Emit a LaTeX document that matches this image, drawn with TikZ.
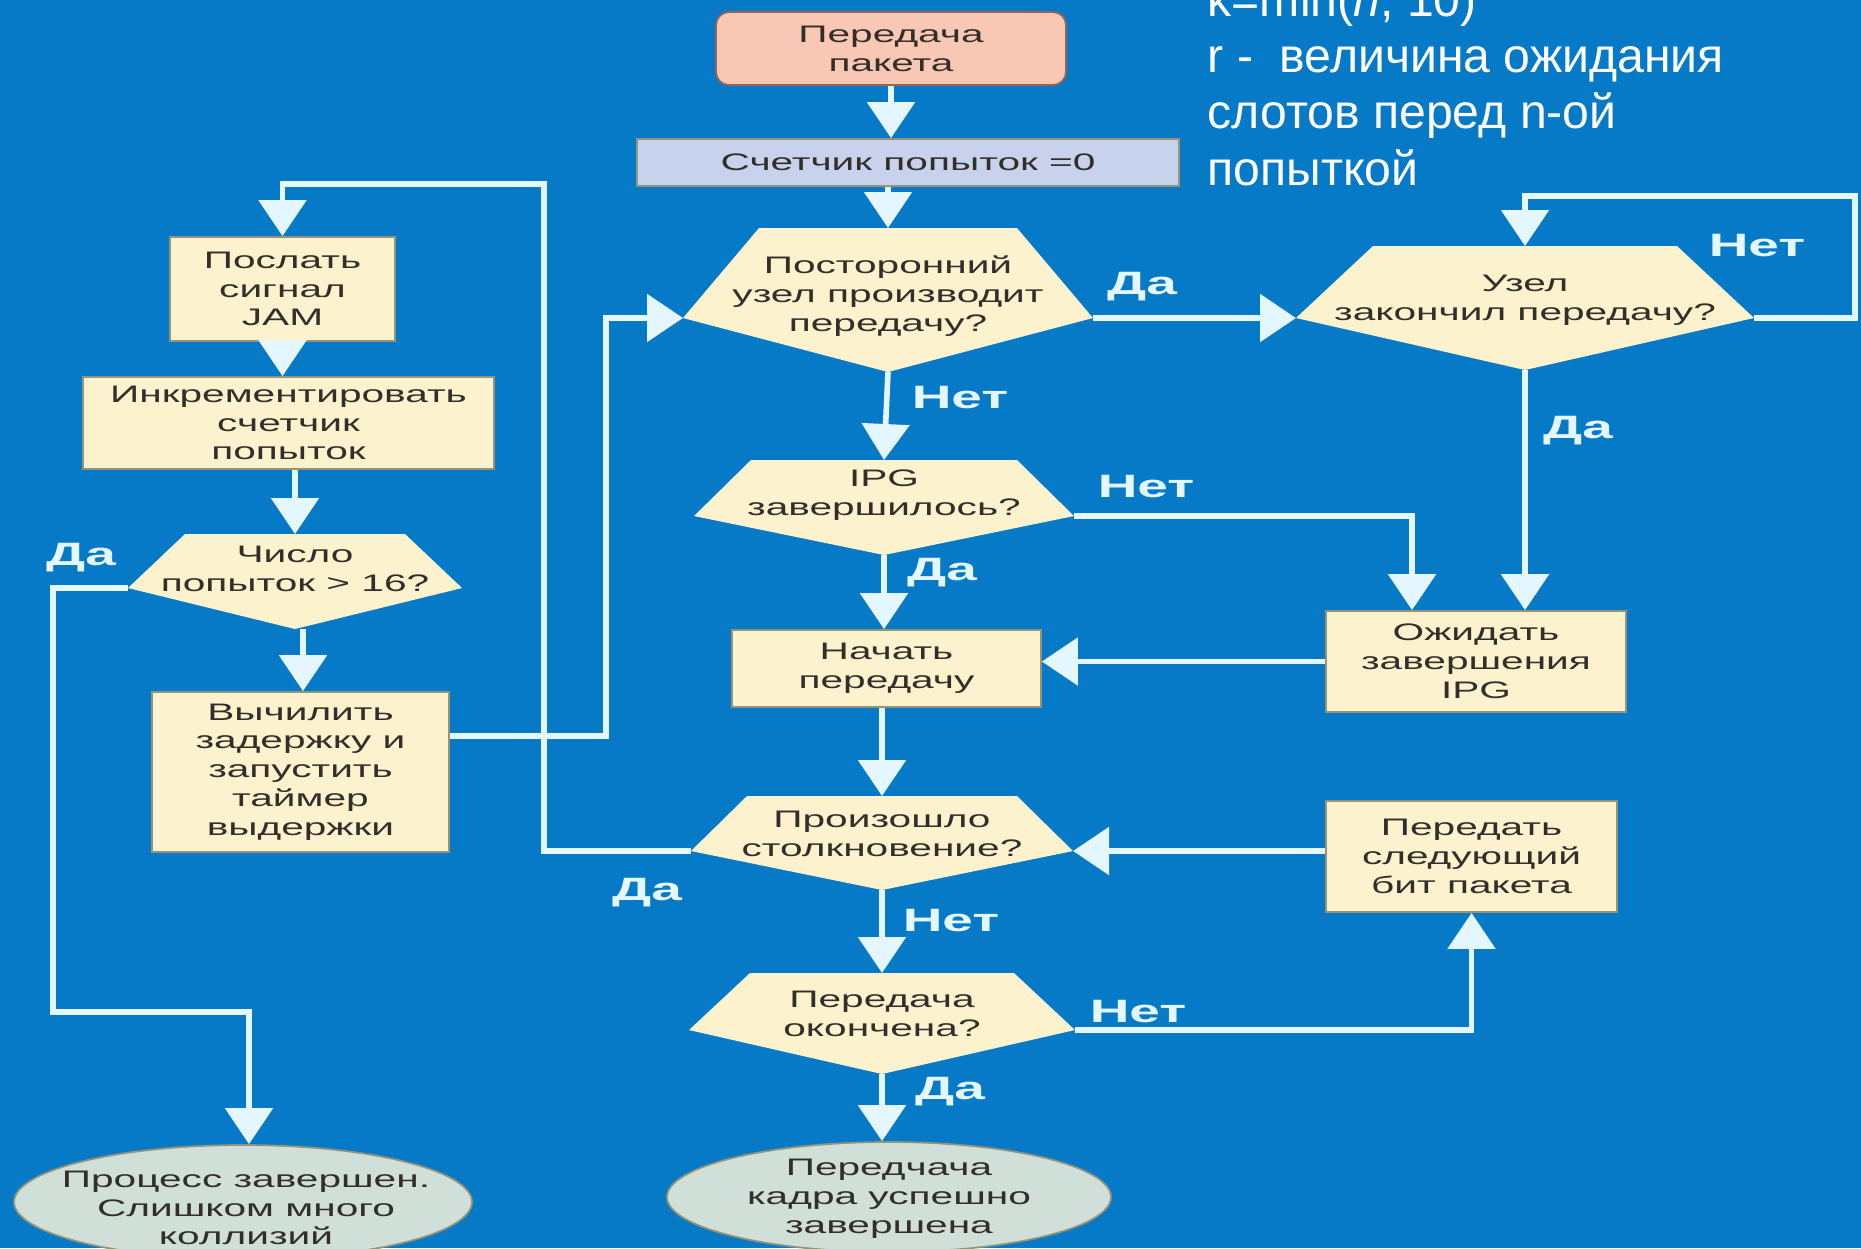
\documentclass[tikz,border=0pt]{standalone}
\usepackage{fontspec}
\setmainfont{Liberation Sans}
\newfontfamily\widefont[FakeStretch=1.7]{Liberation Sans}
\usetikzlibrary{arrows.meta,shapes.geometric}

\definecolor{bgblue}{RGB}{6,122,198}
\definecolor{linec}{RGB}{228,246,255}
\definecolor{cream}{RGB}{252,243,206}
\definecolor{creamedge}{RGB}{150,148,120}
\definecolor{salmon}{RGB}{248,200,180}
\definecolor{salmonedge}{RGB}{150,100,85}
\definecolor{lavender}{RGB}{200,210,236}
\definecolor{endfill}{RGB}{208,224,216}
\definecolor{txt}{RGB}{50,47,43}

% decision block: name, cx, top y, side y, bottom y, half top width, half side width
\newcommand{\decisionshape}[7]{%
  \coordinate (#1-t) at (#2,#3);
  \coordinate (#1-l) at ({#2-#7},#4);
  \coordinate (#1-r) at ({#2+#7},#4);
  \coordinate (#1-b) at (#2,#5);
  \fill[cream] ({#2-#6},#3) -- ({#2+#6},#3) -- (#1-r) -- (#1-b) -- (#1-l) -- cycle;
}

\tikzset{
  boxfont/.style={font=\widefont\fontsize{6.8}{8.2}\selectfont},
  box/.style={rectangle, fill=cream, draw=creamedge, line width=0.5pt,
    inner sep=0pt, align=center, text=txt, boxfont},
  dectext/.style={inner sep=0pt, align=center, text=txt, boxfont},
  endnode/.style={ellipse, fill=endfill, draw=creamedge, line width=0.5pt, inner sep=0pt},
  flow/.style={draw=linec, line width=1.6pt, -{Triangle[width=4.7mm,length=3.6mm]}},
  lbl/.style={text=linec, font=\widefont\bfseries\fontsize{9.2}{11}\selectfont, inner sep=0pt},
  note/.style={text=white, font=\fontsize{13.7}{16.2}\selectfont, anchor=base west, inner sep=0pt},
}

\begin{document}
\begin{tikzpicture}[x=0.1mm, y=-0.1mm]
\useasboundingbox (0,0) rectangle (1861,1248);
\fill[bgblue] (0,0) rectangle (1861,1248);
\begin{scope}
\clip (0,0) rectangle (1861,1248);

% explanatory notes
\node[note] (note1) at (1207,16) {k=min(\textit{n}, 10)};
\node[note] (note2) at (1207,72) {r -\ \ величина ожидания};
\node[note] (note3) at (1207,128.5) {слотов перед n-ой};
\node[note] (note4) at (1207,185) {попыткой};

% process blocks
\node[box, fill=salmon, draw=salmonedge, rounded corners=1.3mm,
      minimum width=35mm, minimum height=7.3mm] (start) at (891,48.5) {Передача\\пакета};
\node[box, fill=lavender, draw=creamedge, minimum width=54.2mm, minimum height=4.7mm]
      (counter) at (908,162.5) {Счетчик попыток =0};
\node[box, minimum width=22.5mm, minimum height=10.4mm] (jam) at (282.5,289) {Послать\\сигнал\\JAM};
\node[box, minimum width=41.1mm, minimum height=9.2mm] (inc) at (288.5,423) {Инкрементировать\\счетчик\\попыток};
\node[box, minimum width=29.7mm, minimum height=16mm] (calc) at (300.5,772)
      {Вычилить\\задержку и\\запустить\\таймер\\выдержки};
\node[box, minimum width=30.9mm, minimum height=7.7mm] (begin) at (886.5,668.5) {Начать\\передачу};
\node[box, minimum width=30mm, minimum height=10.1mm] (wait) at (1476,661.5) {Ожидать\\завершения\\IPG};
\node[box, minimum width=29.1mm, minimum height=11.1mm] (next) at (1471.5,856.5) {Передать\\следующий\\бит пакета};

% terminal blocks
\node[endnode, minimum width=44.4mm, minimum height=11mm] (done) at (889,1197) {};
\node[dectext] (donetext) at (889,1199) {Передчача\\кадра успешно\\завершена};
\node[endnode, minimum width=45.8mm, minimum height=11.4mm] (fail) at (243,1202) {};
\node[dectext] (failtext) at (246,1208) {Процесс завершен.\\Слишком много\\коллизий};

% decisions
\decisionshape{busy}{888}{228}{318}{372}{129}{205}
\node[dectext] (busytext) at (888,296) {Посторонний\\узел производит\\передачу?};
\decisionshape{idle}{1525}{246}{318}{370}{152}{229}
\node[dectext] (idletext) at (1525,300) {Узел\\закончил передачу?};
\decisionshape{ipg}{884}{460}{516}{555}{133}{190}
\node[dectext] (ipgtext) at (884,495) {IPG\\завершилось?};
\decisionshape{coll}{882}{796}{851}{890}{135}{191}
\node[dectext] (colltext) at (882,834) {Произошло\\столкновение?};
\decisionshape{fin}{882}{973}{1030}{1074}{132}{193}
\node[dectext] (fintext) at (882,1014) {Передача\\окончена?};
\decisionshape{cnt}{295}{534}{588}{629}{110}{167}
\node[dectext] (cnttext) at (295,569) {Число\\попыток > 16?};

% connectors
\coordinate (loopcorner) at (1855,196);
\coordinate (yescorner) at (544,184);
\coordinate (abortcorner) at (53,1012);

\draw[flow] (start.south) -- (start.south |- counter.north);
\draw[flow] (counter.south -| busy-t) -- (busy-t);
\draw[flow] (busy-r) -- (idle-l);
\draw[flow] (idle-r) -| (loopcorner) -| (idle-t);
\draw[flow] (idle-b) -- (idle-b |- wait.north);
\draw[flow] (busy-b) -- (ipg-t);
\draw[flow] (ipg-r) -| ([xshift=-6.4mm]wait.north);
\draw[flow] (ipg-b) -- (ipg-b |- begin.north);
\draw[flow] (wait.west) -- (wait.west -| begin.east);
\draw[flow] (begin.south -| coll-t) -- (coll-t);
\draw[flow] (coll-r -| next.west) -- (coll-r);
\draw[flow] (coll-l) -| (yescorner) -| (jam.north);
\draw[flow] (coll-b) -- (fin-t);
\draw[flow] (fin-r) -| (next.south);
\draw[flow] (fin-b) -- (fin-b |- done.north);
\draw[flow] (jam.south) -- (jam.south |- inc.north);
\draw[flow] (inc.south -| cnt-t) -- (cnt-t);
\draw[flow] ([xshift=0.8mm]cnt-b) -- ([xshift=0.8mm]cnt-b |- calc.north);
\draw[flow] (cnt-l) -| (abortcorner) -| ([xshift=0.6mm]fail.north);
\draw[flow] ([yshift=3.6mm]calc.east) -- ++(156,0) |- (busy-l);

% branch labels
\node[lbl] (l1) at (1142,287) {Да};
\node[lbl] (l2) at (1757,246) {Нет};
\node[lbl] (l3) at (1578,431) {Да};
\node[lbl] (l4) at (960,398) {Нет};
\node[lbl] (l5) at (1146,487) {Нет};
\node[lbl] (l6) at (942,573) {Да};
\node[lbl] (l7) at (647,893) {Да};
\node[lbl] (l8) at (951,921) {Нет};
\node[lbl] (l9) at (1138,1012) {Нет};
\node[lbl] (l10) at (950,1092) {Да};
\node[lbl] (l11) at (81,558) {Да};
\end{scope}
\end{tikzpicture}
\end{document}
